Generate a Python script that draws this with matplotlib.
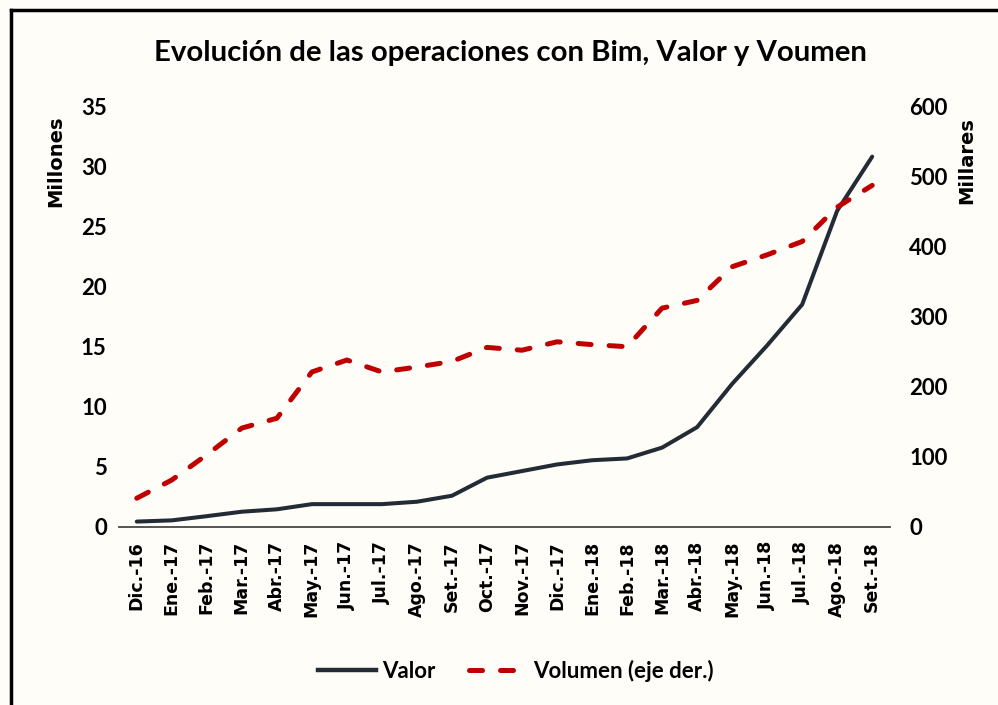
import matplotlib
matplotlib.use("Agg")
import matplotlib.pyplot as plt
from matplotlib.lines import Line2D

# Monthly data, Dec 2016 - Sep 2018
meses = ['Dic.-16', 'Ene.-17', 'Feb.-17', 'Mar.-17', 'Abr.-17', 'May.-17',
         'Jun.-17', 'Jul.-17', 'Ago.-17', 'Set.-17', 'Oct.-17', 'Nov.-17',
         'Dic.-17', 'Ene.-18', 'Feb.-18', 'Mar.-18', 'Abr.-18', 'May.-18',
         'Jun.-18', 'Jul.-18', 'Ago.-18', 'Set.-18']

# Valor, millones (left axis)
valor = [0.45, 0.55, 0.9, 1.27, 1.47, 1.9, 1.9, 1.9, 2.1, 2.6, 4.1, 4.65,
         5.2, 5.55, 5.7, 6.6, 8.3, 11.9, 15.1, 18.5, 26.3, 30.8]

# Volumen, millares (right axis)
volumen = [41, 67, 103, 141, 155, 221, 238, 221, 228, 236, 256, 252,
           264, 260, 257, 312, 323, 371, 388, 407, 456, 487]

left_ticks = [0, 5, 10, 15, 20, 25, 30, 35]
right_ticks = [0, 100, 200, 300, 400, 500, 600]

bg = '#fffdf8'
num_font = 'Lato'
dark = '#232b36'
red = '#c00000'

fig = plt.figure(figsize=(9.98, 7.05), dpi=100, facecolor=bg)
ax = fig.add_axes([0.1195, 0.2525, 0.772, 0.597])
ax.set_facecolor(bg)
ax2 = ax.twinx()

x = list(range(len(meses)))
ax.plot(x, valor, color=dark, lw=2.9, solid_capstyle='round', zorder=3)
ax2.plot(x, volumen, color=red, lw=3.6, dashes=(2.6, 3.6),
         dash_capstyle='round', zorder=2)

ax.set_xlim(-0.5, 21.5)
ax.set_ylim(0, 35)
ax2.set_ylim(0, 600)
ax.set_yticks(left_ticks)
ax2.set_yticks(right_ticks)
ax.set_yticklabels([str(t) for t in left_ticks], fontsize=16,
                   family=num_font, fontweight='bold')
ax2.set_yticklabels([str(t) for t in right_ticks], fontsize=16,
                    family=num_font, fontweight='bold')
ax.set_xticks(x)
ax.set_xticklabels(meses, rotation=90, fontsize=12.5, fontweight='bold')

for a in (ax, ax2):
    for side in ('top', 'left', 'right'):
        a.spines[side].set_visible(False)
    a.spines['bottom'].set_color('#555555')
    a.spines['bottom'].set_linewidth(1.2)
    a.tick_params(length=0)
ax.tick_params(axis='y', pad=9)
ax2.tick_params(axis='y', pad=14)
ax.tick_params(axis='x', pad=10)

ax.set_ylabel('Millones', fontsize=14, fontweight='bold')
ax.yaxis.set_label_coords(-0.07, 0.87)
ax2.set_ylabel('Millares', fontsize=14, fontweight='bold', rotation=90)
ax2.yaxis.set_label_coords(1.088, 0.87)

fig.text(0.511, 0.925, 'Evolución de las operaciones con Bim, Valor y Voumen',
         ha='center', va='center', fontsize=21.2, fontweight='bold',
         family=num_font)

handles = [Line2D([], [], color=dark, lw=3.2),
           Line2D([], [], color=red, lw=3.6, dashes=(2.6, 3.6),
                  dash_capstyle='round')]
fig.legend(handles, ['Valor', 'Volumen (eje der.)'], loc='center',
           bbox_to_anchor=(0.517, 0.048), ncol=2, frameon=False,
           prop={'family': num_font, 'weight': 'bold', 'size': 16},
           handlelength=2.6, columnspacing=1.5, handletextpad=0.3)

# frame lines on the left and top edges
fig.add_artist(Line2D([0.011, 0.011], [0, 0.986], color='black', lw=2.5,
                      transform=fig.transFigure))
fig.add_artist(Line2D([0.011, 1.0], [0.986, 0.986], color='black', lw=2.5,
                      transform=fig.transFigure))

fig.savefig('out.png', dpi=100, facecolor=bg)
